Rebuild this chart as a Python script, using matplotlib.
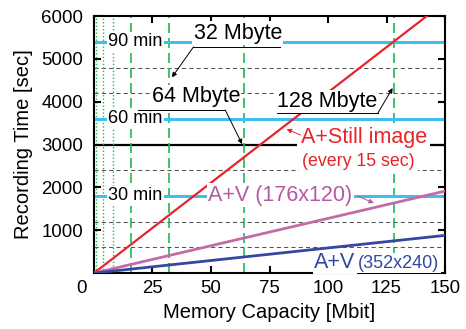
import matplotlib
matplotlib.use("Agg")
import matplotlib.pyplot as plt
from matplotlib.transforms import ScaledTranslation

plt.rcParams['font.family'] = ['Liberation Sans', 'DejaVu Sans']

# data
memory = [0, 150]
still_time = [0, 6330]      # A+Still image (every 15 sec)
av_small = [0, 1915]        # A+V (176x120)
av_large = [0, 880]         # A+V (352x240)

minute_marks = [1800, 3600, 5400]
minute_labels = ['30 min', '60 min', '90 min']
gray_levels = [600, 1200, 2400, 4200, 4800]
dotted_caps = [1, 4, 8]
dashed_caps = [16, 32, 64, 128]

xticks = [0, 25, 50, 75, 100, 125, 150]
yticks = [1000, 2000, 3000, 4000, 5000, 6000]

red = '#e8232a'
pink = '#c46aa8'
pink_txt = '#b25aa2'
blue = '#3548a0'
cyan = '#3fbfee'
green = '#1db954'

fig = plt.figure(figsize=(4.66, 3.29), dpi=100)
ax = fig.add_axes([0.2017, 0.170, 0.7533, 0.781])

for g in gray_levels:
    ax.axhline(g, color='#555555', lw=0.75, ls=(0, (4, 3)), zorder=1)
ax.axhline(3000, color='black', lw=1.6, zorder=1.2)
for c in dotted_caps:
    ax.axvline(c, color=green, lw=1.0, ls=(0, (1, 1.5)), zorder=1.5)
for c in dashed_caps:
    ax.axvline(c, color=green, lw=1.2, ls=(0, (6, 3)), zorder=1.5)
for m, lab in zip(minute_marks, minute_labels):
    ax.axhline(m, color=cyan, lw=2.2, zorder=2)
    ax.text(17.6, m, lab, fontsize=13, ha='center', va='center', zorder=5,
            bbox=dict(fc='white', ec='none', pad=1))

ax.plot(memory, still_time, color=red, lw=1.6, zorder=3)
ax.plot(memory, av_small, color=pink, lw=2.0, zorder=3)
ax.plot(memory, av_large, color=blue, lw=2.0, zorder=3)

box = dict(fc='white', ec='none', pad=1)
arrow = dict(arrowstyle='-|>', color='black', lw=0.7, mutation_scale=7, shrinkA=0, shrinkB=0)

# memory size labels with underline + arrow
ax.text(61.5, 5600, '32 Mbyte', fontsize=15.5, ha='center', va='center', zorder=5, bbox=box)
ax.plot([42.5, 79.5], [5280, 5280], color='black', lw=0.7, zorder=6)
ax.annotate('', xy=(33.3, 4570), xytext=(42.5, 5280), arrowprops=arrow, zorder=6)

ax.text(43.5, 4120, '64 Mbyte', fontsize=15.5, ha='center', va='center', zorder=5, bbox=box)
ax.plot([18.9, 56.1], [3806, 3806], color='black', lw=0.7, zorder=6)
ax.annotate('', xy=(63.3, 3010), xytext=(56.1, 3806), arrowprops=arrow, zorder=6)

ax.text(99.5, 4000, '128 Mbyte', fontsize=15.5, ha='center', va='center', zorder=5, bbox=box)
ax.plot([78.4, 121.3], [3736, 3736], color='black', lw=0.7, zorder=6)
ax.annotate('', xy=(127.6, 4320), xytext=(121.3, 3736), arrowprops=arrow, zorder=6)

# series labels
ax.text(88.3, 3175, 'A+Still image', fontsize=15.5, color=red, ha='left', va='center',
        zorder=5, bbox=dict(fc='white', ec='none', pad=2.5))
ax.text(89.0, 2600, '(every 15 sec)', fontsize=12.8, color=red, ha='left', va='center',
        zorder=5, bbox=dict(fc='white', ec='none', pad=2.5))
ax.annotate('', xy=(82.3, 3362), xytext=(88.3, 3222),
            arrowprops=dict(arrowstyle='-|>', color=red, lw=0.7, mutation_scale=7, shrinkA=0, shrinkB=0), zorder=6)

ax.text(79.7, 1821, 'A+V (176x120)', fontsize=15.5, color=pink_txt, ha='center', va='center',
        zorder=5, bbox=box)
ax.annotate('', xy=(119.6, 1634), xytext=(112.7, 1798),
            arrowprops=dict(arrowstyle='-|>', color=pink_txt, lw=0.7, mutation_scale=7, shrinkA=0, shrinkB=0), zorder=6)

ax.text(94.2, 250, 'A+V', fontsize=15.5, color=blue, ha='left', va='center', zorder=5, bbox=box)
ax.text(112.8, 225, '(352x240)', fontsize=13, color=blue, ha='left', va='center', zorder=5, bbox=box)

ax.set_xlim(0, 150)
ax.set_ylim(0, 6000)
ax.set_xticks(xticks)
ax.set_yticks(yticks)
ax.tick_params(direction='in', top=True, right=True, length=5, width=1.5, labelsize=13.4)
ax.tick_params(axis='y', pad=8)
ax.tick_params(axis='x', pad=5)
for s in ax.spines.values():
    s.set_linewidth(1.5)

lbl0 = ax.get_xticklabels()[0]
lbl0.set_transform(lbl0.get_transform() + ScaledTranslation(-0.12, 0, fig.dpi_scale_trans))

ax.set_xlabel('Memory Capacity [Mbit]', fontsize=14.5, labelpad=4)
ax.set_ylabel('Recording Time [sec]', fontsize=14.5, labelpad=6)

fig.savefig('out.png', dpi=100)
